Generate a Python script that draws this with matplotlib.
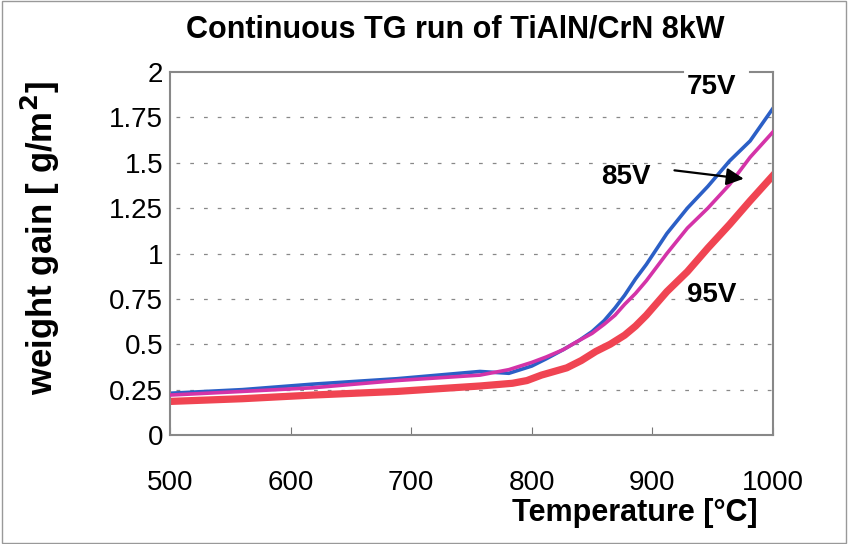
import matplotlib
matplotlib.use('Agg')
import matplotlib.pyplot as plt
import numpy as np

plt.rcParams['font.family'] = ['Liberation Sans', 'DejaVu Sans']

# 75V (blau)
t75 = [500, 560, 618, 688, 757, 781, 800, 812, 826, 839, 850, 860, 869, 877, 886, 895, 912, 929, 946, 964, 981, 1000]
w75 = [0.23, 0.25, 0.28, 0.31, 0.35, 0.34, 0.38, 0.42, 0.47, 0.52, 0.57, 0.63, 0.70, 0.77, 0.86, 0.94, 1.11, 1.25, 1.37, 1.51, 1.62, 1.80]
# 85V (magenta)
t85 = [500, 560, 618, 688, 757, 781, 800, 812, 826, 839, 850, 860, 869, 877, 886, 895, 912, 929, 946, 964, 981, 1000]
w85 = [0.22, 0.24, 0.26, 0.30, 0.33, 0.36, 0.40, 0.43, 0.47, 0.52, 0.56, 0.61, 0.66, 0.72, 0.78, 0.85, 1.00, 1.14, 1.25, 1.38, 1.53, 1.67]
# 95V (rot)
t95 = [500, 560, 618, 688, 757, 784, 796, 808, 829, 841, 853, 865, 877, 886, 895, 912, 929, 946, 964, 981, 1000]
w95 = [0.185, 0.20, 0.22, 0.24, 0.27, 0.285, 0.30, 0.33, 0.37, 0.41, 0.46, 0.50, 0.55, 0.60, 0.66, 0.79, 0.90, 1.03, 1.16, 1.29, 1.43]

yticks = [0, 0.25, 0.5, 0.75, 1, 1.25, 1.5, 1.75, 2]
ylabels = ['0', '0.25', '0.5', '0.75', '1', '1.25', '1.5', '1.75', '2']
xticks = [500, 600, 700, 800, 900, 1000]

fig = plt.figure(figsize=(8.48, 5.44), dpi=100)
ax = fig.add_axes([170/848, 1 - 435/544, 603/848, 363/544])

# Rahmen um das ganze Bild
fig.patches.append(plt.Rectangle((0.002, 0.002), 0.996, 0.996, transform=fig.transFigure,
                                 fill=False, edgecolor='#999999', lw=1))

for y in yticks[1:-1]:
    ax.plot([505, 1000], [y, y], color='#888888', lw=0.9, ls=(0, (3, 8)), zorder=1)

ax.plot(t95, w95, color='#f04452', lw=5.2, zorder=2, solid_joinstyle='round')
ax.plot(t85, w85, color='#d433a8', lw=2.6, zorder=3, solid_joinstyle='round')
ax.plot(t75, w75, color='#2b5fc6', lw=2.6, zorder=2.5, solid_joinstyle='round')

ax.set_xlim(500, 1000)
ax.set_ylim(0, 2)
ax.set_xticks(xticks)
ax.set_yticks(yticks)
ax.set_yticklabels(ylabels)
ax.tick_params(axis='x', direction='in', length=6, labelsize=20, pad=25, color='#777777')
ax.tick_params(axis='y', length=0, labelsize=20, pad=5)

for s in ['left', 'bottom', 'right']:
    ax.spines[s].set_color('#888888')
    ax.spines[s].set_linewidth(1.5)
ax.spines['top'].set_visible(False)
ax.plot([0, 0.85], [1, 1], transform=ax.transAxes, color='#888888', lw=1.5, clip_on=False)
ax.plot([0.962, 1], [1, 1], transform=ax.transAxes, color='#888888', lw=1.5, clip_on=False)

ax.text(949, 1.92, '75V', fontsize=20, fontweight='bold', ha='center', va='center')
ax.text(878, 1.42, '85V', fontsize=20, fontweight='bold', ha='center', va='center')
ax.text(949, 0.77, '95V', fontsize=20, fontweight='bold', ha='center', va='center')
ax.annotate('', xy=(978, 1.41), xytext=(916, 1.46),
            arrowprops=dict(arrowstyle='-|>', color='black', lw=1.6, mutation_scale=26))

fig.text(455/848, 1 - 30/544, 'Continuous TG run of TiAlN/CrN 8kW', fontsize=22,
         fontweight='bold', ha='center', va='center')
fig.text(40/848, 1 - 238/544, 'weight gain [ g/m$^\\mathbf{2}$]', fontsize=25, fontweight='bold',
         rotation=90, ha='center', va='center')
fig.text(635/848, 1 - 513/544, 'Temperature [°C]', fontsize=22, fontweight='bold',
         ha='center', va='center')

fig.savefig('out.png', dpi=100)
